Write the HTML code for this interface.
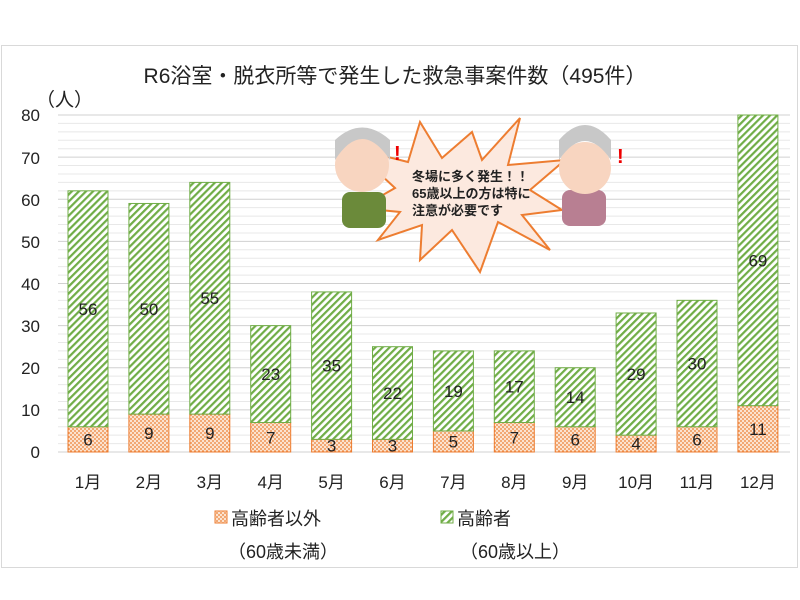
<!DOCTYPE html><html><head><meta charset="utf-8"><style>body{margin:0;background:#fff}svg{display:block}text{font-family:"Liberation Sans","Noto Sans CJK JP",sans-serif;fill:#222}</style></head><body>
<svg width="800" height="600" viewBox="0 0 800 600">
<defs>
<pattern id="g" width="5" height="5" patternUnits="userSpaceOnUse" patternTransform="rotate(45)"><rect width="5" height="5" fill="#fff"/><rect width="2.2" height="5" fill="#70ad47"/></pattern>
<pattern id="o" width="4" height="4" patternUnits="userSpaceOnUse"><rect width="4" height="4" fill="#fbe3d0"/><circle cx="1" cy="1" r="0.9" fill="#ed7d31"/><circle cx="3" cy="3" r="0.9" fill="#ed7d31"/></pattern>
</defs>
<rect x="1.5" y="45.5" width="796" height="522" fill="#fff" stroke="#d9d9d9"/>
<text x="395" y="83" font-size="21" text-anchor="middle">R6浴室・脱衣所等で発生した救急事案件数（495件）</text>
<text x="36" y="106" font-size="19">（人）</text>
<g id="grid"></g>
<g font-size="17" text-anchor="end">
<text x="40" y="458">0</text><text x="40" y="416">10</text><text x="40" y="374">20</text><text x="40" y="332">30</text><text x="40" y="290">40</text><text x="40" y="248">50</text><text x="40" y="206">60</text><text x="40" y="164">70</text><text x="40" y="121">80</text>
</g>
<g id="bars"></g>
<g font-size="18" text-anchor="start">
<rect x="215" y="511" width="12" height="12" fill="url(#o)" stroke="#ed7d31"/><text x="231" y="525">高齢者以外</text>
<rect x="441" y="511" width="12" height="12" fill="url(#g)" stroke="#70ad47"/><text x="457" y="525">高齢者</text>
<text x="228" y="558">（60歳未満）</text><text x="460" y="558">（60歳以上）</text>
</g>
<g>
<polygon points="395,188 352,148 408,162 420,122 442,158 472,132 482,160 520,118 508,165 565,160 530,190 562,210 522,215 550,250 498,222 480,272 452,230 420,260 422,225 378,240 400,212 360,208" fill="#fce9df" stroke="#ed7d31" stroke-width="2"/>
<text x="412" y="181" font-size="13" font-weight="bold">冬場に多く発生！！</text>
<text x="412" y="198" font-size="13" font-weight="bold">65歳以上の方は特に</text>
<text x="412" y="215" font-size="13" font-weight="bold">注意が必要です</text>
<rect x="342" y="192" width="44" height="36" rx="8" fill="#6b8a3a"/>
<circle cx="362" cy="165" r="27" fill="#f8d5c0"/><path d="M335,160 Q362,118 390,160 L390,140 Q362,115 335,140Z" fill="#c8c8c8"/>
<rect x="562" y="190" width="44" height="36" rx="8" fill="#b87f92"/>
<circle cx="585" cy="168" r="26" fill="#f8d5c0"/><path d="M559,160 Q585,122 611,160 L611,140 Q585,110 559,140Z" fill="#c8c8c8"/>
<text x="394" y="160" font-size="20" style="fill:#e00" font-weight="bold">!</text>
<text x="617" y="163" font-size="20" style="fill:#e00" font-weight="bold">!</text>
</g>
</svg>
<script>
var s="http://www.w3.org/2000/svg",svg=document.querySelector('svg'),gr=document.getElementById('grid'),bs=document.getElementById('bars');
function el(t,a,p){var e=document.createElementNS(s,t);for(var k in a)e.setAttribute(k,a[k]);p.appendChild(e);return e}
var y0=452,k=4.2125;
for(var v=0;v<=80;v+=2){var y=y0-v*k;el('line',{x1:58,x2:790,y1:y,y2:y,stroke:v%10==0?'#d0d0d0':'#e8e8e8','stroke-width':1},gr)}
var a=[6,9,9,7,3,3,5,7,6,4,6,11],b=[56,50,55,23,35,22,19,17,14,29,30,69];
for(var i=0;i<12;i++){var cx=88+i*60.9,x=cx-20;
var ha=a[i]*k,hb=b[i]*k;
el('rect',{x:x,y:y0-ha,width:40,height:ha,fill:'url(#o)',stroke:'#ed7d31','stroke-width':1},bs);
el('rect',{x:x,y:y0-ha-hb,width:40,height:hb,fill:'url(#g)',stroke:'#70ad47','stroke-width':1},bs);
var t=el('text',{x:cx,y:y0-ha/2+6,'font-size':17,'text-anchor':'middle'},bs);t.textContent=a[i];
t=el('text',{x:cx,y:y0-ha-hb/2+6,'font-size':17,'text-anchor':'middle'},bs);t.textContent=b[i];
t=el('text',{x:cx,y:488,'font-size':17,'text-anchor':'middle'},bs);t.textContent=(i+1)+'月';}
svg.appendChild(svg.children[svg.children.length-1]);
</script>
</body></html>
